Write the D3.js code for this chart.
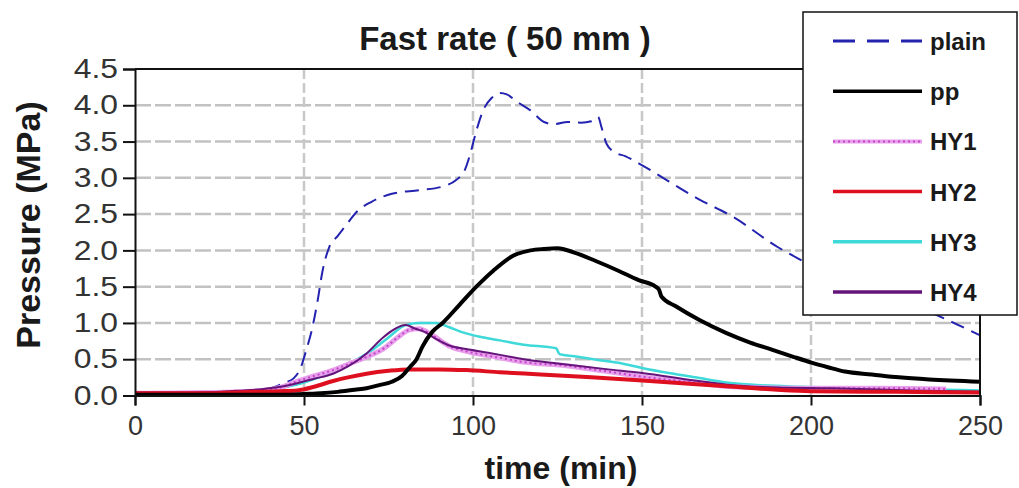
<!DOCTYPE html>
<html>
<head>
<meta charset="utf-8">
<script src="https://cdn.jsdelivr.net/npm/d3@7"></script>
<style>
  body { margin: 0; background: #fff; }
  svg { display: block; font-family: "Liberation Sans", Arial, sans-serif; }
</style>
</head>
<body>
<div id="chart"></div>
<script>
// series data: [time (min), pressure (MPa)]
const plain = [[0,0.03],[10,0.03],[20,0.04],[30,0.05],[38,0.08],[42,0.13],[44,0.17],[47,0.24],[49,0.38],[50.5,0.6],[52.5,0.94],[54,1.3],[55.5,1.72],[57.5,2.05],[60,2.2],[62,2.32],[66,2.55],[70,2.67],[76,2.78],[84,2.83],[91,2.88],[95,2.97],[97.5,3.1],[99,3.3],[101,3.65],[103,3.93],[105.5,4.1],[108,4.17],[110,4.15],[113,4.05],[117,3.93],[121,3.77],[124,3.74],[128,3.77],[132,3.76],[135,3.78],[137,3.84],[138,3.7],[139.5,3.47],[142,3.35],[145,3.3],[149,3.2],[167,2.7],[177,2.46],[190,2.05],[196.5,1.88],[220,1.45],[239,1.07],[250,0.83]];
const pp = [[0,0.01],[45,0.01],[50,0.02],[55,0.03],[60,0.05],[65,0.08],[68.5,0.1],[72,0.14],[76,0.19],[79,0.27],[81.3,0.39],[83.3,0.5],[85,0.67],[88,0.88],[91,1.0],[96,1.25],[101,1.5],[106,1.72],[112,1.93],[117,2.0],[121,2.02],[125,2.03],[130,1.97],[136.5,1.85],[143,1.72],[149,1.59],[154,1.5],[155,1.46],[155.8,1.36],[160,1.23],[167,1.04],[175,0.86],[182,0.73],[188.6,0.63],[195,0.53],[200.4,0.45],[205,0.39],[210,0.33],[218,0.29],[226,0.25],[235,0.22],[250,0.19]];
const hy1 = [[0,0.03],[20,0.04],[35,0.06],[43,0.11],[48.8,0.21],[53,0.27],[58.6,0.35],[63,0.43],[68.5,0.53],[74,0.66],[78,0.81],[81,0.9],[84,0.92],[88,0.83],[93,0.68],[98,0.61],[103,0.56],[108,0.52],[115,0.46],[127.6,0.41],[140,0.33],[150,0.26],[165,0.18],[177,0.12],[200,0.1],[220,0.1],[240,0.09]];
const hy2 = [[0,0.03],[20,0.03],[35,0.05],[43,0.06],[48,0.07],[53,0.12],[58.6,0.2],[63,0.25],[68.5,0.3],[75,0.34],[81,0.36],[90,0.36],[98,0.35],[108,0.32],[120,0.29],[135,0.25],[149,0.21],[165,0.16],[177,0.12],[190,0.08],[200,0.06],[225,0.05],[250,0.04]];
const hy3 = [[0,0.03],[30,0.04],[40,0.07],[45,0.12],[50,0.18],[55,0.26],[60,0.36],[65,0.48],[70,0.62],[75,0.8],[80,0.97],[84,1.0],[89,1.0],[93,0.94],[97,0.87],[102,0.81],[108,0.76],[115,0.7],[124.6,0.65],[125.6,0.57],[130,0.54],[137,0.49],[143,0.45],[150,0.38],[158,0.31],[167,0.24],[175,0.18],[182,0.15],[196.5,0.12],[215,0.1],[239,0.08],[250,0.07]];
const hy4 = [[0,0.04],[15,0.04],[28,0.06],[38,0.09],[43,0.12],[48,0.17],[53,0.23],[58.6,0.3],[63,0.4],[68.5,0.58],[73.4,0.8],[77,0.92],[80,0.97],[83,0.92],[86,0.87],[89,0.78],[93,0.69],[98,0.64],[103,0.6],[108,0.56],[115,0.5],[125,0.44],[140,0.36],[150,0.31],[165,0.21],[177,0.14],[190,0.11],[206,0.1],[230,0.07],[250,0.05]];

const xTicks = [0, 50, 100, 150, 200, 250];
const yTicks = [0, 0.5, 1, 1.5, 2, 2.5, 3, 3.5, 4, 4.5];

const series = [
  { name: "plain", data: plain, color: "#2323b0", width: 2, dash: "14,8" },
  { name: "HY3", data: hy3, color: "#3fd9d9", width: 2.5 },
  { name: "HY1", data: hy1, color: "#e8a0ec", width: 5, dots: "#c344c8" },
  { name: "HY4", data: hy4, color: "#64147a", width: 2 },
  { name: "HY2", data: hy2, color: "#de1020", width: 4 },
  { name: "pp", data: pp, color: "#000", width: 4 }
];
const legendOrder = ["plain", "pp", "HY1", "HY2", "HY3", "HY4"];

const w = 1019, h = 488;
const plotLeft = 135, plotRight = 980, plotTop = 69, plotBottom = 395.5;

const svg = d3.select("#chart").append("svg")
  .attr("width", w).attr("height", h);

const x = d3.scaleLinear().domain([0, 250]).range([plotLeft, plotRight]);
const y = d3.scaleLinear().domain([0, 4.5]).range([plotBottom, plotTop]);

// grid
svg.append("g").selectAll("line")
  .data(yTicks.filter(d => d > 0 && d < 4.5))
  .join("line")
  .attr("x1", plotLeft).attr("x2", plotRight)
  .attr("y1", d => y(d)).attr("y2", d => y(d))
  .attr("stroke", "#c2c2c2").attr("stroke-width", 2.5)
  .attr("stroke-dasharray", "16,4");
svg.append("g").selectAll("line")
  .data(xTicks.filter(d => d > 0 && d < 250))
  .join("line")
  .attr("x1", d => x(d)).attr("x2", d => x(d))
  .attr("y1", plotTop).attr("y2", plotBottom)
  .attr("stroke", "#c8c8c8").attr("stroke-width", 2.5)
  .attr("stroke-dasharray", "10,4");

// curves
const line = d3.line().x(d => x(d[0])).y(d => y(d[1])).curve(d3.curveMonotoneX);
series.forEach(s => {
  const p = svg.append("path")
    .attr("d", line(s.data))
    .attr("fill", "none")
    .attr("stroke", s.color)
    .attr("stroke-width", s.width)
    .attr("stroke-linejoin", "round");
  if (s.dash) p.attr("stroke-dasharray", s.dash);
  if (s.dots) {
    svg.append("path")
      .attr("d", line(s.data))
      .attr("fill", "none")
      .attr("stroke", s.dots)
      .attr("stroke-width", 2)
      .attr("stroke-dasharray", "2,3");
  }
});

// frame
svg.append("path")
  .attr("d", `M${plotLeft},${plotTop}H${plotRight}V${plotBottom}`)
  .attr("fill", "none").attr("stroke", "#111").attr("stroke-width", 2);

// axes
const yAxis = svg.append("g")
  .attr("transform", `translate(${plotLeft},0)`)
  .call(d3.axisLeft(y).tickValues(yTicks).tickFormat(d3.format(".1f")).tickSize(12).tickPadding(5));
const xAxis = svg.append("g")
  .attr("transform", `translate(0,${plotBottom})`)
  .call(d3.axisBottom(x).tickValues(xTicks).tickSize(10).tickPadding(10));
[xAxis, yAxis].forEach(g => {
  g.select(".domain").attr("stroke", "#111").attr("stroke-width", 2);
  g.selectAll(".tick line").attr("stroke", "#111").attr("stroke-width", 2);
  g.selectAll("text").attr("font-size", 27).attr("fill", "#333")
    .attr("font-family", "Liberation Sans, Arial, sans-serif");
});
// y tick labels are drawn a little wider in the original
yAxis.selectAll(".tick text")
  .attr("x", -17 / 1.18)
  .attr("transform", "scale(1.18,1)");

// titles
svg.append("text")
  .attr("x", 505).attr("y", 50)
  .attr("text-anchor", "middle")
  .attr("font-size", 33).attr("font-weight", "bold").attr("fill", "#1a1a1a")
  .text("Fast rate ( 50 mm )");
svg.append("text")
  .attr("x", 561).attr("y", 479)
  .attr("text-anchor", "middle")
  .attr("font-size", 32).attr("font-weight", "bold").attr("fill", "#1a1a1a")
  .text("time (min)");
svg.append("text")
  .attr("transform", "translate(40,225) rotate(-90)")
  .attr("text-anchor", "middle")
  .attr("font-size", 34).attr("font-weight", "bold").attr("fill", "#1a1a1a")
  .text("Pressure (MPa)");

// legend
const lg = svg.append("g");
lg.append("rect")
  .attr("x", 803).attr("y", 12).attr("width", 214).attr("height", 303)
  .attr("fill", "#fff").attr("stroke", "#111").attr("stroke-width", 1.5);
const bySeries = Object.fromEntries(series.map(s => [s.name, s]));
legendOrder.forEach((name, i) => {
  const s = bySeries[name];
  const cy = 41 + i * 50.2;
  const l = lg.append("line")
    .attr("x1", 833).attr("x2", 922).attr("y1", cy).attr("y2", cy)
    .attr("stroke", s.color)
    .attr("stroke-width", name === "HY1" ? 4 : 3.5);
  if (name === "plain") l.attr("stroke-dasharray", "22,12").attr("stroke-width", 3);
  if (s.dots) {
    lg.append("line")
      .attr("x1", 833).attr("x2", 922).attr("y1", cy).attr("y2", cy)
      .attr("stroke", s.dots).attr("stroke-width", 2).attr("stroke-dasharray", "2,3");
  }
  lg.append("text")
    .attr("x", 930).attr("y", cy + 9)
    .attr("font-size", 24).attr("font-weight", "bold").attr("fill", "#1a1a1a")
    .text(name);
});
</script>
</body>
</html>
